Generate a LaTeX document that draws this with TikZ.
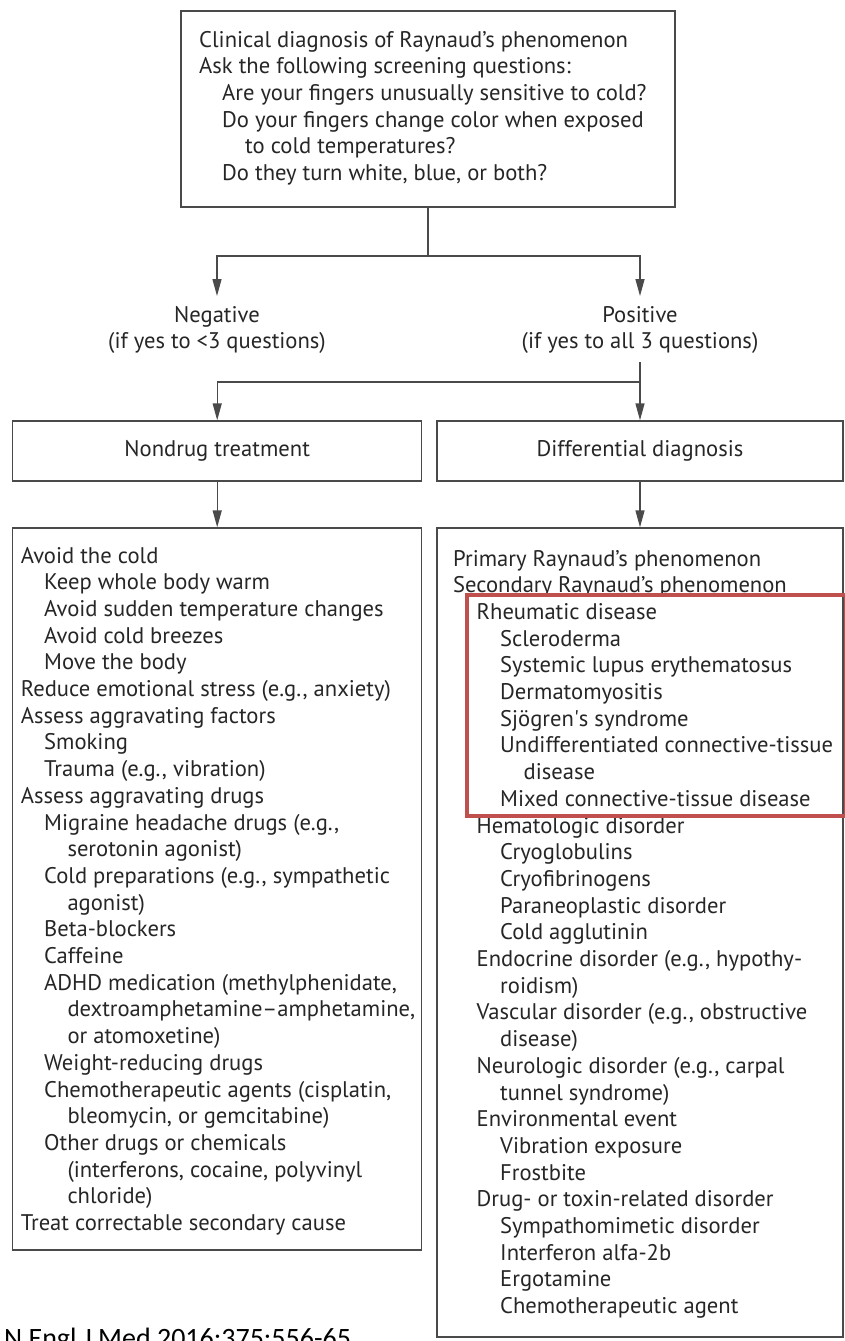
\documentclass[tikz,border=0pt]{standalone}
\usepackage{fontspec}
\setmainfont{PT Sans}
\newfontfamily\citefont{Carlito}
\usetikzlibrary{arrows.meta}

\definecolor{inkgray}{HTML}{262626}
\definecolor{rulegray}{HTML}{4A4A4A}
\definecolor{flagred}{HTML}{C0504D}

\newcommand{\bodysize}{\fontsize{22.6}{26.7}\selectfont}

\begin{document}
\begin{tikzpicture}[x=1pt,y=-1pt,
  box/.style={draw=rulegray, line width=1.4pt, inner sep=0pt, fill=white},
  headbox/.style={box, font=\bodysize, text=inkgray},
  listline/.style={inner sep=0pt, anchor=base west, font=\bodysize, text=inkgray},
  label/.style={inner sep=0pt, align=center, font=\bodysize, text=inkgray},
  conn/.style={draw=rulegray, line width=1.4pt},
  arr/.style={conn, -{Triangle[length=17pt,width=9pt]}}]

\useasboundingbox (0,0) rectangle (845,1341);
\clip (0,0) rectangle (845,1341);
\fill[white] (0,0) rectangle (845,1341);

% screening box
\node[box, minimum width=494pt, minimum height=196pt] (screen) at (428,109) {};
\foreach \lv/\tx [count=\k] in {
  0/{Clinical diagnosis of Raynaud’s phenomenon},
  0/{Ask the following screening questions:},
  1/{Are your fingers unusually sensitive to cold?},
  1/{Do your fingers change color when exposed},
  2/{to cold temperatures?},
  1/{Do they turn white, blue, or both?}}
  \node[listline] (q\k) at ({199+23*\lv},{47+26.7*(\k-1)}) {\tx};

% outcome labels
\node[label] (neg) at (217,330) {Negative\\(if yes to <3 questions)};
\node[label] (pos) at (640,330) {Positive\\(if yes to all 3 questions)};
\coordinate (split) at (428,256);
\coordinate (negtip) at (217,296);
\coordinate (postip) at (640,296);
\coordinate (posfoot) at (640,362);
\coordinate (split2) at (640,382);

% second-level boxes
\node[headbox, minimum width=409pt, minimum height=60pt] (nondrug) at (217.2,451) {Nondrug treatment};
\node[headbox, minimum width=406pt, minimum height=60pt] (diff) at (640,451) {Differential diagnosis};

% list boxes
\node[box, minimum width=409pt, minimum height=722pt] (treat) at (217.2,889) {};
\node[box, minimum width=406pt, minimum height=809pt] (causes) at (640,932.5) {};

\foreach \lv/\tx [count=\k] in {
  0/{Avoid the cold},
  1/{Keep whole body warm},
  1/{Avoid sudden temperature changes},
  1/{Avoid cold breezes},
  1/{Move the body},
  0/{Reduce emotional stress (e.g., anxiety)},
  0/{Assess aggravating factors},
  1/{Smoking},
  1/{Trauma (e.g., vibration)},
  0/{Assess aggravating drugs},
  1/{Migraine headache drugs (e.g.,},
  2/{serotonin agonist)},
  1/{Cold preparations (e.g., sympathetic},
  2/{agonist)},
  1/{Beta-blockers},
  1/{Caffeine},
  1/{ADHD medication (methylphenidate,},
  2/{dextroamphetamine–amphetamine,},
  2/{or atomoxetine)},
  1/{Weight-reducing drugs},
  1/{Chemotherapeutic agents (cisplatin,},
  2/{bleomycin, or gemcitabine)},
  1/{Other drugs or chemicals},
  2/{(interferons, cocaine, polyvinyl},
  2/{chloride)},
  0/{Treat correctable secondary cause}}
  \node[listline] (t\k) at ({20.7+23.3*\lv},{563+26.7*(\k-1)}) {\tx};

\foreach \lv/\tx [count=\k] in {
  0/{Primary Raynaud’s phenomenon},
  0/{Secondary Raynaud’s phenomenon},
  1/{Rheumatic disease},
  2/{Scleroderma},
  2/{Systemic lupus erythematosus},
  2/{Dermatomyositis},
  2/{Sjögren\textquotesingle s syndrome},
  2/{Undifferentiated connective-tissue},
  3/{disease},
  2/{Mixed connective-tissue disease},
  1/{Hematologic disorder},
  2/{Cryoglobulins},
  2/{Cryofibrinogens},
  2/{Paraneoplastic disorder},
  2/{Cold agglutinin},
  1/{Endocrine disorder (e.g., hypothy-},
  2/{roidism)},
  1/{Vascular disorder (e.g., obstructive},
  2/{disease)},
  1/{Neurologic disorder (e.g., carpal},
  2/{tunnel syndrome)},
  1/{Environmental event},
  2/{Vibration exposure},
  2/{Frostbite},
  1/{Drug- or toxin-related disorder},
  2/{Sympathomimetic disorder},
  2/{Interferon alfa-2b},
  2/{Ergotamine},
  2/{Chemotherapeutic agent}}
  \node[listline] (c\k) at ({453+23.5*\lv},{566+26.7*(\k-1)}) {\tx};

% highlight around the rheumatic group
\node[draw=flagred, line width=3.5pt, inner sep=0pt,
      minimum width=379pt, minimum height=221pt] (rheum) at (656.5,705.5) {};

% connectors
\draw[conn] (screen.south) -- (split);
\draw[arr] (split) -| (negtip);
\draw[arr] (split) -| (postip);
\draw[arr] (posfoot) -- (diff.north);
\draw[arr] (split2) -| (nondrug.north);
\draw[arr] (nondrug.south) -- (treat.north);
\draw[arr] (diff.south) -- (causes.north);

% citation
\node[inner sep=0pt, anchor=base west, font=\citefont\fontsize{28}{30}\selectfont, text=black]
  (cite) at (4,1347) {N Engl J Med 2016;375:556-65};
\end{tikzpicture}
\end{document}
